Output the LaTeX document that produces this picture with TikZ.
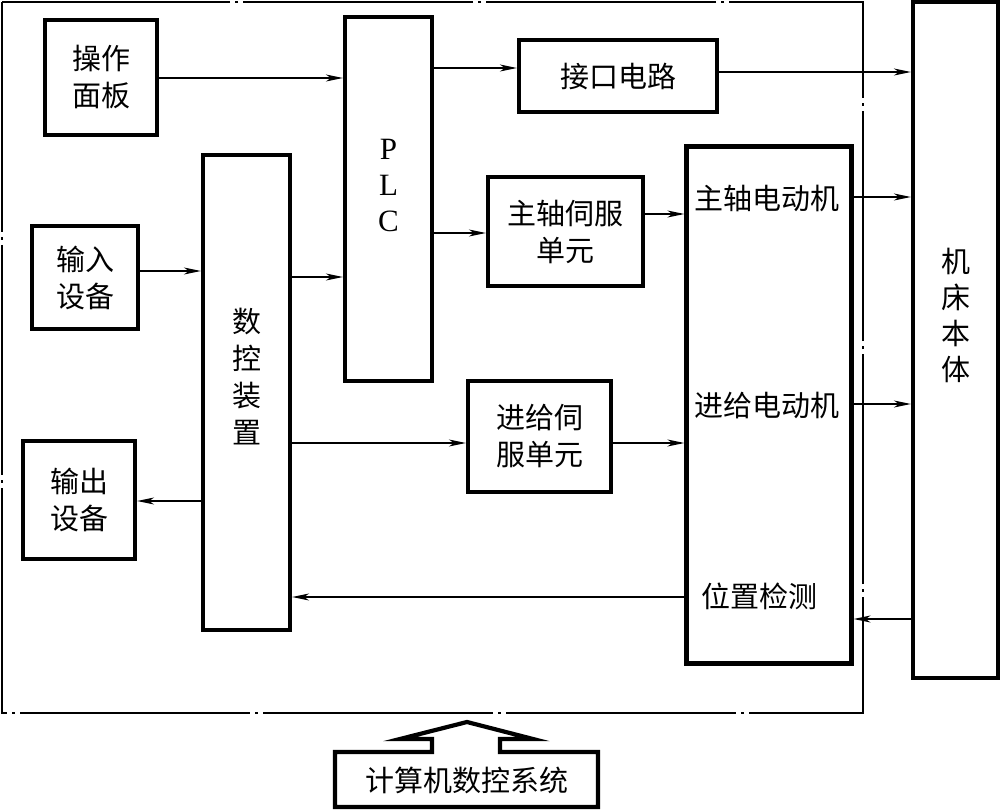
\documentclass[tikz,border=0pt]{standalone}
\usepackage{fontspec}
\newfontfamily\cjk{Noto Sans CJK SC}
\newfontfamily\tms{Liberation Serif}
\usetikzlibrary{arrows.meta}
\begin{document}
\begin{tikzpicture}[x=1pt,y=-1pt,
  box/.style={draw, line width=4.2pt, inner sep=0pt},
  lbl/.style={font=\cjk\fontsize{29}{37}\selectfont, align=center, inner sep=0pt},
  arr/.style={line width=1.3pt, -{Stealth[length=17pt,width=7pt,inset=5pt]}},
  frame/.style={line width=1.4pt, dash pattern=on 230pt off 5pt on 3pt off 5pt},
]
\useasboundingbox (0,0) rectangle (1001,810);
% outer frame
\draw[frame] (2,2) rectangle (863,713);

% boxes
\node[box, minimum width=112, minimum height=115, lbl] (czmb) at (101,77.5) {操作\\面板};
\node[box, minimum width=87, minimum height=364] (plc) at (388.5,199) {};
\node[align=center, inner sep=0pt, font=\tms\fontsize{31}{36}\selectfont] (tplc) at (388.5,186) {P\\L\\C};
\node[box, minimum width=198, minimum height=72, lbl] (jkdl) at (618,76) {接口电路};
\node[box, minimum width=85, minimum height=676] (jcbt) at (955.5,340) {};
\node[lbl, font=\cjk\fontsize{29}{36}\selectfont] (tjcbt) at (955.5,315) {机\\床\\本\\体};
\node[box, minimum width=87, minimum height=475] (sk) at (246.5,392.5) {};
\node[lbl] (tsk) at (246.5,377) {数\\控\\装\\置};
\node[box, minimum width=106, minimum height=103, lbl] (srsb) at (85,277.5) {输入\\设备};
\node[box, minimum width=112, minimum height=118, lbl] (scsb) at (79,500) {输出\\设备};
\node[box, minimum width=155, minimum height=109, lbl] (zzsf) at (565.5,231.5) {主轴伺服\\单元};
\node[box, minimum width=143, minimum height=111, lbl] (jjsf) at (539.5,436.5) {进给伺\\服单元};
\node[box, minimum width=165, minimum height=517] (motor) at (769,405) {};
\node[lbl] (m1) at (767,198) {主轴电动机};
\node[lbl] (m2) at (767,406) {进给电动机};
\node[lbl] (m3) at (759,596) {位置检测};

% bottom box with hollow arrow
\draw[line width=4.2pt, line join=miter]
  (432,752) -- (432,739) -- (400,739) -- (467,722) -- (533,739) -- (500,739)
  -- (500,752) -- (598,752) -- (598,807) -- (335,807) -- (335,752) -- cycle;
\node[lbl] (jsj) at (466.5,780) {计算机数控系统};

% y levels
\coordinate (y78) at (0,78);
\coordinate (y68) at (0,68);
\coordinate (y72) at (0,72);
\coordinate (y233) at (0,233);
\coordinate (y214) at (0,214);
\coordinate (y197) at (0,197);
\coordinate (y271) at (0,271);
\coordinate (y277) at (0,277);
\coordinate (y443) at (0,443);
\coordinate (y404) at (0,404);
\coordinate (y501) at (0,501);
\coordinate (y597) at (0,597);
\coordinate (y619) at (0,619);

% connectors
\draw[arr] (czmb.east |- y78) -- (plc.west |- y78);
\draw[arr] (plc.east |- y68) -- (jkdl.west |- y68);
\draw[arr] (jkdl.east |- y72) -- (jcbt.west |- y72);
\draw[arr] (plc.east |- y233) -- (zzsf.west |- y233);
\draw[arr] (zzsf.east |- y214) -- (motor.west |- y214);
\draw[arr] (motor.east |- y197) -- (jcbt.west |- y197);
\draw[arr] (srsb.east |- y271) -- (sk.west |- y271);
\draw[arr] (sk.east |- y277) -- (plc.west |- y277);
\draw[arr] (sk.east |- y443) -- (jjsf.west |- y443);
\draw[arr] (jjsf.east |- y443) -- (motor.west |- y443);
\draw[arr] (motor.east |- y404) -- (jcbt.west |- y404);
\draw[arr] (sk.west |- y501) -- (scsb.east |- y501);
\draw[arr] (motor.west |- y597) -- (sk.east |- y597);
\draw[arr] (jcbt.west |- y619) -- (motor.east |- y619);
\end{tikzpicture}
\end{document}
